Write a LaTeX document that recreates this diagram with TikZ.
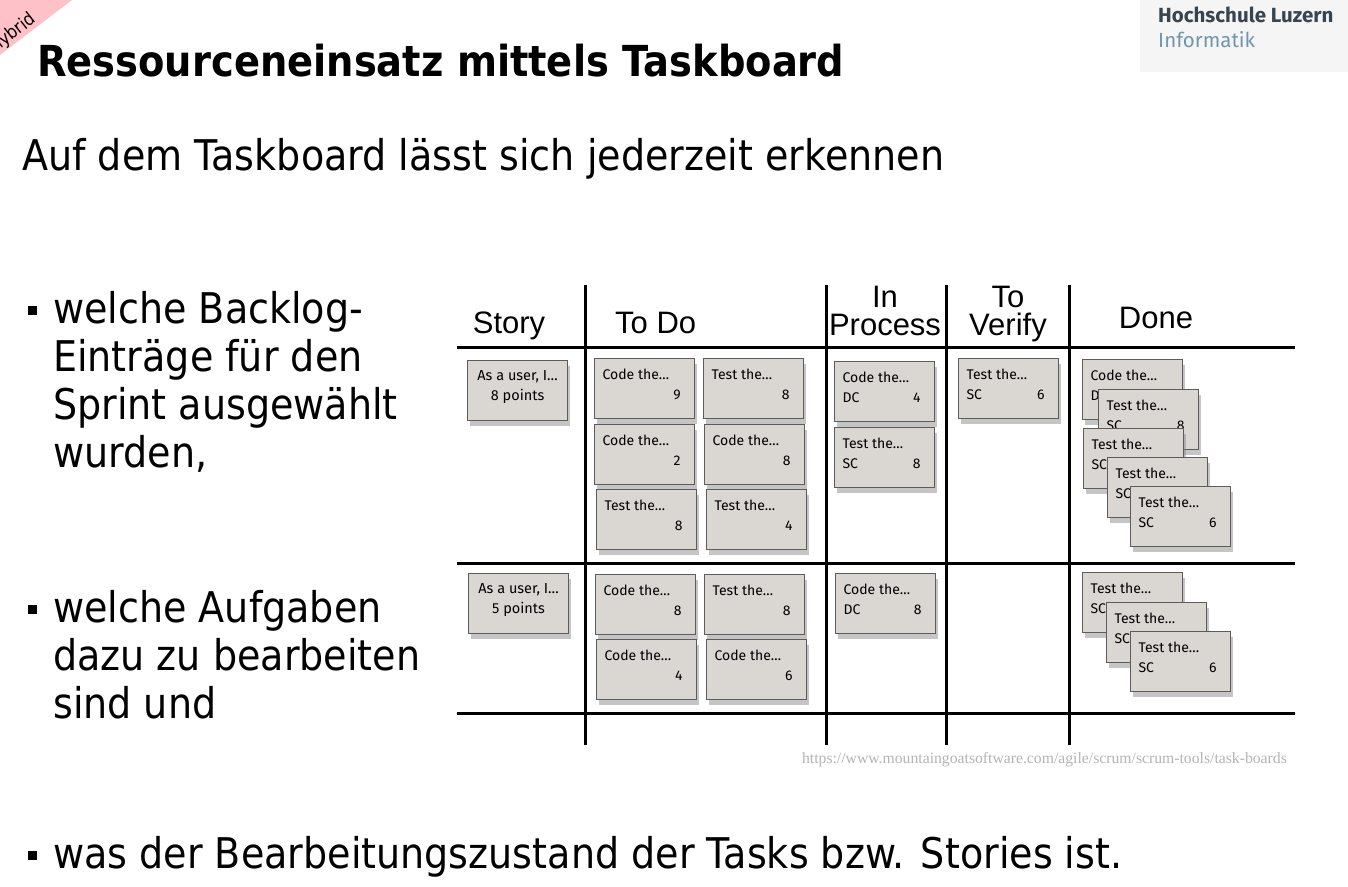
\documentclass[tikz,border=0pt]{standalone}
\usepackage{fontspec}
\setmainfont{Liberation Sans}
\newfontfamily\bodyfont{DejaVu Sans}[FakeStretch=0.9]
\newfontfamily\logofont{Fira Sans}
\newfontfamily\cardfont{Fira Sans}
\newfontfamily\urlfont{Liberation Serif}
\usetikzlibrary{shadows,positioning}
\definecolor{ribbon}{HTML}{FFC1C8}
\definecolor{logobg}{HTML}{F5F5F5}
\definecolor{logodark}{HTML}{36454F}
\definecolor{logoblue}{HTML}{6E96AE}
\definecolor{cardfill}{HTML}{DAD6D2}
\definecolor{cardline}{HTML}{5C5C5C}
\definecolor{urlgray}{HTML}{B4B4B4}
\newcommand\cardtext[3]{\parbox[t][40pt][t]{84pt}{#1\\\null#2\hfill#3\hspace*{6pt}}}
\newcommand\storytext[2]{\parbox[t][40pt][t]{84pt}{\centering #1\\#2}}

\begin{document}
\begin{tikzpicture}[x=1pt,y=-1pt,
card/.style={draw=cardline,line width=1.2pt,fill=cardfill,anchor=north west,
  inner xsep=8pt,inner ysep=10pt,font=\cardfont\fontsize{14}{20}\selectfont,
  drop shadow={shadow xshift=2pt,shadow yshift=-5pt,opacity=0.45}},
grid/.style={line width=3pt},
head/.style={anchor=base,inner sep=0pt,font=\fontsize{31}{31}\selectfont},
body/.style={anchor=base west,inner sep=0pt,font=\bodyfont\fontsize{42.3}{48}\selectfont},
bulletsq/.style={fill=black,minimum size=9pt,inner sep=0pt}]
\useasboundingbox (0,0) rectangle (1348,886);
\fill[white] (0,0) rectangle (1348,886);
% corner ribbon and logo
\fill[ribbon] (0,0) -- (72,0) -- (0,55) -- cycle;
\node[anchor=base east,inner sep=0pt,rotate=38,font=\bodyfont\fontsize{18}{18}\selectfont] (hybrid) at (37,21) {hybrid};
\fill[logobg] (1140,0) rectangle (1348,72);
\node[anchor=base west,inner sep=0pt,text=logodark,font=\logofont\bfseries\fontsize{20.5}{20}\selectfont] (hslu) at (1158,22) {Hochschule Luzern};
\node[anchor=base west,inner sep=0pt,text=logoblue,font=\logofont\fontsize{20.5}{20}\selectfont] (infk) at (1158,47) {Informatik};
% title and text
\node[anchor=base west,inner sep=0pt,font=\bodyfont\bfseries\fontsize{42.7}{43}\selectfont] (title) at (37,76) {Ressourceneinsatz mittels Taskboard};
\node[body] (lead) at (22,170) {Auf dem Taskboard lässt sich jederzeit erkennen};
\node[body] (itemA1) at (53,323) {welche Backlog-};
\node[body] (itemA2) at (53,371) {Einträge für den};
\node[body] (itemA3) at (53,419) {Sprint ausgewählt};
\node[body] (itemA4) at (53,467) {wurden,};
\node[body] (itemB1) at (53,622) {welche Aufgaben};
\node[body] (itemB2) at (53,670) {dazu zu bearbeiten};
\node[body] (itemB3) at (53,718) {sind und};
\node[body] (itemC) at (53,868) {was der Bearbeitungszustand der Tasks bzw. Stories ist.};
\foreach \b in {310,609,855} \node[bulletsq] at (32,\b) {};
% board grid
\draw[grid] (457,347) -- (1295,347);
\draw[grid] (457,563) -- (1295,563);
\draw[grid] (457,713) -- (1295,713);
\foreach \c in {585,826,946,1069} \draw[grid] (\c,285) -- (\c,745);
% column heads
\node[head] (hStory) at (509,333) {Story};
\node[head,anchor=base west] (hTodo) at (615,333) {To Do};
\node[head] (hIn) at (885,307) {In};
\node[head] (hProc) at (885,335) {Process};
\node[head] (hTo) at (1008,307) {To};
\node[head] (hVer) at (1008,335) {Verify};
\node[head] (hDone) at (1156,328) {Done};
% story cards
\node[card,font=\cardfont\fontsize{14.5}{20}\selectfont] (storyA) at (467,360) {\storytext{As a user, I…}{8 points}};
\node[card,font=\cardfont\fontsize{14.5}{20}\selectfont] (storyB) at (468,573) {\storytext{As a user, I…}{5 points}};
% task cards
\foreach \nm/\x/\y/\kind/\who/\pts in {
  tdA/594/358/Code/{}/9, tdB/703/358/Test/{}/8, tdC/594/424/Code/{}/2,
  tdD/704/424/Code/{}/8, tdE/596/489/Test/{}/8, tdF/706/489/Test/{}/4,
  ipA/834/361/Code/DC/4, ipB/834/427/Test/SC/8, tvA/958/358/Test/SC/6,
  dnA/1082/359/Code/DC/{}, dnB/1098/389/Test/SC/8, dnC/1083/428/Test/SC/{},
  dnD/1107/457/Test/SC/{}, dnE/1130/486/Test/SC/6,
  tdG/595/574/Code/{}/8, tdH/704/574/Test/{}/8, tdI/596/639/Code/{}/4,
  tdJ/706/639/Code/{}/6, ipC/835/573/Code/DC/8,
  dnF/1082/572/Test/SC/{}, dnG/1106/602/Test/SC/{}, dnH/1130/631/Test/SC/6}
  \node[card] (\nm) at (\x,\y) {\cardtext{\kind\ the…}{\who}{\pts}};
% source
\node[anchor=base east,inner sep=0pt,text=urlgray,font=\urlfont\fontsize{15.7}{16}\selectfont] (src) at (1287,763) {https://www.mountaingoatsoftware.com/agile/scrum/scrum-tools/task-boards};
\end{tikzpicture}
\end{document}
